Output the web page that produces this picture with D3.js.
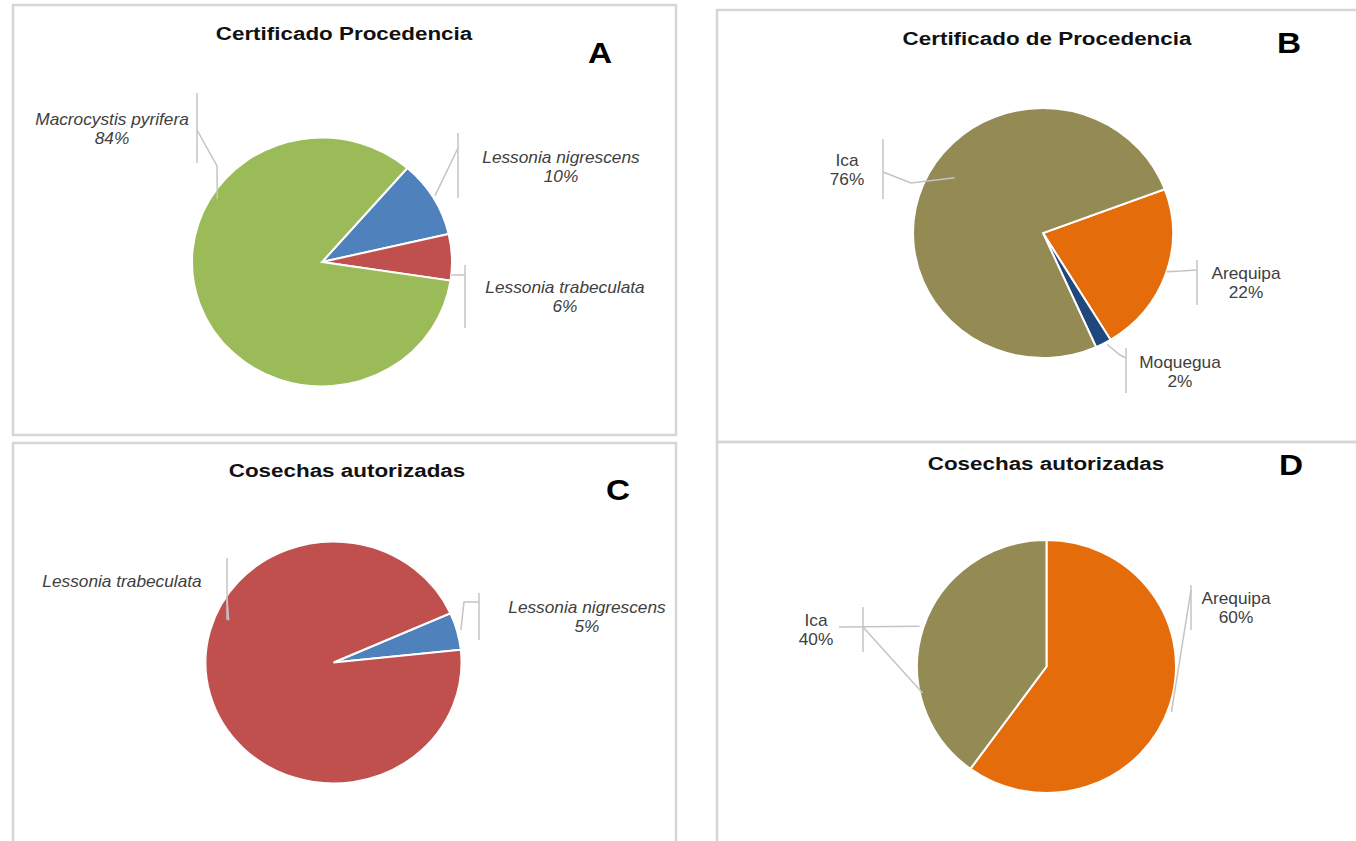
<!DOCTYPE html>
<html>
<head>
<meta charset="utf-8">
<script src="https://cdn.jsdelivr.net/npm/d3@7"></script>
<style>
  body { margin: 0; background: #fff; }
  text { font-family: "Liberation Sans", Arial, sans-serif; }
</style>
</head>
<body>
<script>
// data
var catsA = ["Lessonia nigrescens", "Lessonia trabeculata", "Macrocystis pyrifera"];
var valsA = [10, 6, 84];
var catsB = ["Arequipa", "Moquegua", "Ica"];
var valsB = [22, 2, 76];
var catsC = ["Lessonia nigrescens", "Lessonia trabeculata"];
var valsC = [5, 95];
var catsD = ["Arequipa", "Ica"];
var valsD = [60, 40];
var titles = ["Certificado Procedencia", "Certificado de Procedencia", "Cosechas autorizadas", "Cosechas autorizadas"];
var letters = ["A", "B", "C", "D"];

var color = d3.scaleOrdinal()
  .domain(["Macrocystis pyrifera", "Lessonia nigrescens", "Lessonia trabeculata", "Ica", "Arequipa", "Moquegua"])
  .range(["#9BBB59", "#4F81BD", "#C0504D", "#948A54", "#E46C0A", "#1F497D"]);

var svg = d3.select("body").append("svg")
  .attr("width", 1356)
  .attr("height", 841);

// panel layout
var R = 125;
var panels = [
  {cats: catsA, vals: valsA, italic: true, box: [13, 5, 663, 430], tx: 344, ty: 40, lx: 600, ly: 63,
   cx: 322, cy: 262, rx: 130, ry: 124.5, start: 41,
   labels: [
     {x: 561, y: 163, bar: [458, 133, 198], pts: [[458, 148]], deg: 58.5, k: 1.02},
     {x: 565, y: 293, bar: [465, 265, 328], pts: [[465, 275]], deg: 96, k: 1.0},
     {x: 112, y: 125, bar: [197, 93, 163], pts: [[197, 130], [217, 166]], deg: 302, k: 0.95}
   ]},
  {cats: catsB, vals: valsB, italic: false, box: [717, 10, 700, 432], tx: 1047, ty: 45, lx: 1289, ly: 53,
   cx: 1043, cy: 233, rx: 130, ry: 125, start: 69.5,
   labels: [
     {x: 1246, y: 279, bar: [1197, 260, 305], pts: [[1197, 270], [1182, 271]], deg: 108, k: 1.0},
     {x: 1180, y: 368, bar: [1126, 348, 393], pts: [[1126, 358], [1120, 355]], deg: 151, k: 1.02},
     {x: 847, y: 166, bar: [883, 139, 199], pts: [[883, 172], [911, 183]], deg: 303, k: 0.81}
   ]},
  {cats: catsC, vals: valsC, italic: true, box: [13, 443, 663, 420], tx: 347, ty: 477, lx: 618, ly: 500,
   cx: 333.5, cy: 662.5, rx: 128, ry: 121, start: 66, hidePct: [false, true],
   labels: [
     {x: 587, y: 613, bar: [479, 593, 640], pts: [[479, 602], [464, 602]], deg: 75, k: 1.03},
     {x: 122, y: 587, bar: [227, 558, 620], pts: [[227, 598]], deg: 293, k: 0.89}
   ]},
  {cats: catsD, vals: valsD, italic: false, box: [717, 442, 700, 420], tx: 1046, ty: 470, lx: 1291, ly: 475,
   cx: 1046.5, cy: 666.5, rx: 129.5, ry: 126.5, start: 0,
   labels: [
     {x: 1236, y: 604, bar: [1191, 585, 630], pts: [[1191, 590]], deg: 110.5, k: 1.03},
     {x: 816, y: 626, bar: [863, 607, 652], pts: [[839, 627]], deg: 288, k: 1.03, extra: {from: [863, 627], deg: 257.6, k: 0.98}}
   ]}
];

var arc = d3.arc().innerRadius(0).outerRadius(R);

function edge(p, deg, k) {
  var a = deg * Math.PI / 180;
  return [p.cx + k * p.rx * Math.sin(a), p.cy - k * p.ry * Math.cos(a)];
}

var line = d3.line();

panels.forEach(function(p, i) {
  var g = svg.append("g");

  g.append("rect")
    .attr("x", p.box[0]).attr("y", p.box[1])
    .attr("width", p.box[2]).attr("height", p.box[3])
    .attr("fill", "none")
    .attr("stroke", "#d6d6d6")
    .attr("stroke-width", 2.5);

  // title, a bit wider than the font
  g.append("text")
    .attr("transform", "translate(" + p.tx + "," + p.ty + ") scale(1.18,1)")
    .attr("text-anchor", "middle")
    .style("font-weight", "bold")
    .style("font-size", "19px")
    .attr("fill", "#111")
    .text(titles[i]);

  g.append("text")
    .attr("transform", "translate(" + p.lx + "," + p.ly + ") scale(1.15,1)")
    .attr("text-anchor", "middle")
    .style("font-weight", "bold")
    .style("font-size", "29px")
    .attr("fill", "#000")
    .text(letters[i]);

  var sa = p.start * Math.PI / 180;
  var pie = d3.pie().sort(null).startAngle(sa).endAngle(sa + 2 * Math.PI);
  var data = pie(p.vals);
  var total = d3.sum(p.vals);

  var pg = g.append("g")
    .attr("transform", "translate(" + p.cx + "," + p.cy + ") scale(" + (p.rx / R) + "," + (p.ry / R) + ")");

  pg.selectAll("path")
    .data(data)
    .enter().append("path")
    .attr("d", arc)
    .attr("fill", function(d, j) { return color(p.cats[j]); })
    .attr("stroke", "#fff")
    .attr("stroke-width", 2)
    .attr("vector-effect", "non-scaling-stroke");

  // leader lines + labels
  p.labels.forEach(function(l, j) {
    var b = l.bar;
    g.append("path")
      .attr("d", line([[b[0], b[1]], [b[0], b[2]]]))
      .attr("stroke", "#c4c4c4").attr("stroke-width", 1.5).attr("fill", "none");
    var pts = l.pts.concat([edge(p, l.deg, l.k)]);
    g.append("path")
      .attr("d", line(pts))
      .attr("stroke", "#c4c4c4").attr("stroke-width", 1.5).attr("fill", "none");
    if (l.extra) {
      g.append("path")
        .attr("d", line([l.extra.from, edge(p, l.extra.deg, l.extra.k)]))
        .attr("stroke", "#c4c4c4").attr("stroke-width", 1.5).attr("fill", "none");
    }

    var t = g.append("text")
      .attr("transform", "translate(" + l.x + "," + l.y + ") scale(1.08,1)")
      .attr("text-anchor", "middle")
      .style("font-size", "16px")
      .style("font-style", p.italic ? "italic" : "normal")
      .attr("fill", "#404040");
    t.append("tspan").attr("x", 0).text(p.cats[j]);
    if (!(p.hidePct && p.hidePct[j])) {
      t.append("tspan").attr("x", 0).attr("dy", 19)
        .text(Math.round(p.vals[j] / total * 100) + "%");
    }
  });
});
</script>
</body>
</html>
